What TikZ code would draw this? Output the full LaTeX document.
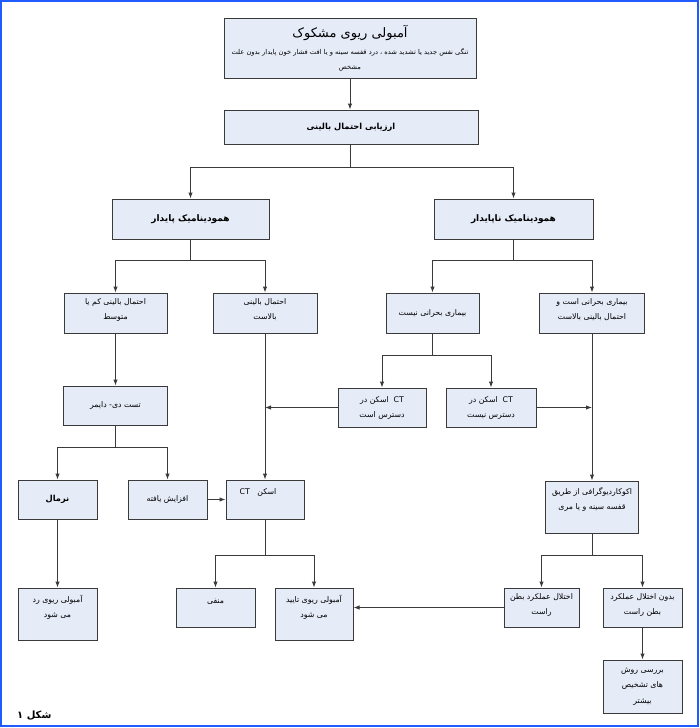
\documentclass[tikz,border=0pt]{standalone}
\usepackage{fontspec}
\setmainfont{DejaVu Sans}
\newfontfamily\arabicfont[Script=Arabic]{DejaVu Sans}
\TeXXeTstate=1
\usetikzlibrary{arrows.meta}
\newcommand{\fatxt}[1]{\beginR #1\endR}
\definecolor{boxfill}{HTML}{E6EBF8}
\definecolor{boxline}{HTML}{3A3A3A}
\definecolor{framecol}{HTML}{1F5BFF}
\tikzset{
  box/.style={draw=boxline, line width=1pt, fill=boxfill, align=center, inner sep=1pt,
    font=\arabicfont\fontsize{7.8}{15}\selectfont},
  sz/.style 2 args={minimum width=#1pt, minimum height=#2pt},
  up/.style={text depth=#1pt},
  head/.style={font=\arabicfont\bfseries\fontsize{9}{12}\selectfont},
  conn/.style={draw=boxline, line width=1pt},
  arr/.style={conn, -{Latex[length=6pt,width=4.5pt]}}
}
\begin{document}
\begin{tikzpicture}[x=1pt,y=-1pt]
\useasboundingbox (0,0) rectangle (700,728);
\draw[framecol, line width=2.4pt] (1.2,1.2) rectangle (698.2,725.8);

% boxes
\node[box, sz={252}{60}] (b1) at (350,48)
  {{\fontsize{13}{15}\selectfont\fatxt{آمبولی ریوی مشکوک}}\\[2pt]
   {\fontsize{6.7}{12}\selectfont\fatxt{تنگی نفس جدید یا تشدید شده ، درد قفسه سینه و یا افت فشار خون پایدار بدون علت}}\\
   {\fontsize{6.7}{10}\selectfont\fatxt{مشخص}}};
\node[box, font=\arabicfont\bfseries\fontsize{8.3}{12}\selectfont, sz={254}{34}] (b2) at (351,127) {\fatxt{ارزیابی احتمال بالینی}};
\node[box, head, sz={157}{40}] (b3) at (190.5,219) {\fatxt{همودینامیک پایدار}};
\node[box, head, sz={159}{40}] (b4) at (513.5,219) {\fatxt{همودینامیک ناپایدار}};

\node[box, sz={103}{40}, up=8] (b5) at (115.5,313) {\fatxt{احتمال بالینی کم یا}\\\fatxt{متوسط}};
\node[box, sz={104}{40}, up=7] (b6) at (265,313) {\fatxt{احتمال بالینی}\\\fatxt{بالاست}};
\node[box, sz={93}{40}] (b7) at (432.5,313) {\fatxt{بیماری بحرانی نیست}};
\node[box, sz={105}{40}, up=7] (b8) at (592,313) {\fatxt{بیماری بحرانی است و}\\\fatxt{احتمال بالینی بالاست}};

\node[box, sz={104}{39}] (b9) at (115.5,405.5) {\fatxt{تست دی- دایمر}};
\node[box, sz={88}{39}] (b10) at (382,407.5) {\fatxt{\beginL CT\endL\ \ اسکن در}\\\fatxt{دسترس است}};
\node[box, sz={90}{39}] (b11) at (491,407.5) {\fatxt{\beginL CT\endL\ \ اسکن در}\\\fatxt{دسترس نیست}};

\node[box, sz={79}{39}, font=\arabicfont\bfseries\fontsize{8.3}{12}\selectfont] (b13) at (57.5,499.5) {\fatxt{نرمال}};
\node[box, sz={79}{39}] (b14) at (167.5,499.5) {\fatxt{افزایش یافته}};
\node[box, sz={78}{39}, up=15] (b15) at (265,499.5) {\fatxt{\hspace*{14pt}اسکن\ \ \ \beginL CT\endL}};
\node[box, sz={93}{52}, up=17] (b12) at (592,507) {\fatxt{اکوکاردیوگرافی از طریق}\\\fatxt{قفسه سینه و یا مری}};

\node[box, sz={79}{52}, up=16] (b16) at (57.5,614) {\fatxt{آمبولی ریوی رد}\\\fatxt{می شود}};
\node[box, sz={79}{39}, up=12] (b17) at (215.5,607.5) {\fatxt{منفی}};
\node[box, sz={78}{52}, up=16] (b18) at (314,614) {\fatxt{آمبولی ریوی تایید}\\\fatxt{می شود}};
\node[box, sz={75}{39}, up=7] (b19) at (541.5,607.5) {\fatxt{اختلال عملکرد بطن}\\\fatxt{راست}};
\node[box, sz={79}{39}, up=7] (b20) at (642.5,607.5) {\fatxt{بدون اختلال عملکرد}\\\fatxt{بطن راست}};
\node[box, sz={79}{53}, font=\arabicfont\fontsize{7.8}{15.5}\selectfont] (b21) at (642.5,686.5) {\fatxt{بررسی روش}\\\fatxt{های تشخیص}\\\fatxt{بیشتر}};

\node[anchor=base west, inner sep=0pt, font=\arabicfont\bfseries\fontsize{10}{11}\selectfont] (cap) at (17,718) {\fatxt{شکل ۱}};

% junctions
\coordinate (j1) at (350,167);
\coordinate (j2) at (190.5,260);
\coordinate (j3) at (513.5,260);
\coordinate (j4) at (432.5,355);
\coordinate (j5) at (115.5,447);
\coordinate (j6) at (265,555);
\coordinate (j7) at (592,555);

% connectors
\draw[arr] (b1.south) -- (b1.south |- b2.north);
\draw[conn] (b1.south |- b2.south) -- (j1);
\draw[arr] (j1) -| (b3.north);
\draw[arr] (j1) -| (b4.north);

\draw[conn] (b3.south) -- (j2);
\draw[arr] (j2) -| (b5.north);
\draw[arr] (j2) -| (b6.north);

\draw[conn] (b4.south) -- (j3);
\draw[arr] (j3) -| (b7.north);
\draw[arr] (j3) -| (b8.north);

\draw[arr] (b5.south) -- (b9.north);
\draw[conn] (b7.south) -- (j4);
\draw[arr] (j4) -| (b10.north);
\draw[arr] (j4) -| (b11.north);

\draw[arr] (b6.south) -- (b15.north);
\draw[arr] (b10.west) -- (b10.west -| b6.south);
\draw[arr] (b8.south) -- (b12.north);
\draw[arr] (b11.east) -- (b11.east -| b8.south);

\draw[conn] (b9.south) -- (j5);
\draw[arr] (j5) -| (b13.north);
\draw[arr] (j5) -| (b14.north);
\draw[arr] (b14.east) -- (b15.west);

\draw[arr] (b13.south) -- (b16.north);
\draw[conn] (b15.south) -- (j6);
\draw[arr] (j6) -| (b17.north);
\draw[arr] (j6) -| (b18.north);

\draw[conn] (b12.south) -- (j7);
\draw[arr] (j7) -| (b19.north);
\draw[arr] (j7) -| (b20.north);
\draw[arr] (b20.south) -- (b21.north);
\draw[arr] (b19.west) -- (b19.west -| b18.east);
\end{tikzpicture}
\end{document}
